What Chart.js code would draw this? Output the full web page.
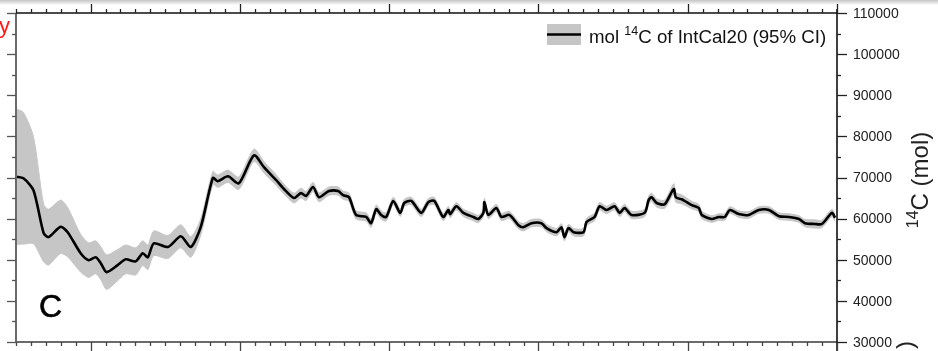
<!DOCTYPE html>
<html>
<head>
<meta charset="utf-8">
<script src="https://cdn.jsdelivr.net/npm/chart.js@4"></script>
<style>
  html, body { margin: 0; padding: 0; background: #fff; }
  body { width: 938px; height: 351px; overflow: hidden; position: relative; }
  #topbar { position: absolute; left: 0; top: 0; width: 938px; height: 5px;
    background: linear-gradient(#c4c4c4, #fff); }
  canvas { position: absolute; left: 0; top: 0; }
</style>
</head>
<body>
<div id="topbar"></div>
<canvas id="chart" width="938" height="351"></canvas>
<script>
// calendar age (yr BP)
const ages = [55000, 54500, 53830, 53150, 52820, 52010, 51540, 50670, 50130, 49660,
  49330, 48930, 48190, 47650, 46980, 46510, 46170, 45770, 44830, 43960,
  43290, 42620, 41810, 41480, 40800, 40070, 39060, 38390, 37580, 37050,
  36380, 35910, 35570, 35100, 34700, 34030, 33420, 33090, 32690, 32220,
  31540, 31210, 30870, 30540, 30200, 29730, 29260, 28990, 28520, 27850,
  27380, 26980, 26380, 26040, 25910, 25500, 25030, 24360, 24030, 23690,
  23620, 23360, 22820, 22480, 21950, 21340, 21010, 20470, 19800, 19460,
  18790, 18460, 18260, 17990, 17650, 16980, 16780, 16240, 15910, 15440,
  14900, 14560, 14230, 13760, 12890, 12620, 12420, 12080, 11540, 10940,
  10800, 10400, 10070, 9730, 9260, 9060, 8390, 7920, 7520, 7180,
  6580, 5910, 5240, 4560, 3890, 3220, 2550, 2150, 1480, 1010,
  340, 130];
// mol 14C
const mol = [70200, 69800, 66900, 56500, 55500, 58000, 56700, 51600, 49900, 50600,
  49200, 47000, 48700, 50100, 49600, 51600, 50600, 54000, 53100, 55700,
  53100, 58000, 69900, 69100, 70300, 68600, 75400, 72500, 69400, 67200,
  65000, 66200, 65500, 67700, 65200, 66700, 66700, 65700, 65200, 60900,
  60400, 58900, 62300, 60900, 60400, 64300, 61400, 63800, 64300, 61400,
  64000, 64300, 60400, 62100, 61100, 63000, 61400, 60400, 59900, 61400,
  64000, 60900, 62600, 60400, 60900, 58400, 57900, 58900, 58900, 57700,
  56700, 57900, 55500, 57700, 56700, 56700, 59200, 60400, 63000, 62100,
  63000, 61400, 62600, 60900, 61400, 64500, 65200, 63800, 63500, 67200,
  65200, 64700, 64000, 63300, 62600, 60900, 59900, 60400, 60400, 62100,
  61100, 60900, 62100, 62100, 60600, 60400, 59900, 58900, 58700, 58700,
  61400, 60200];
// half width of the 95% band
const ciHalf = [16500, 16000, 13000, 7000, 6800, 6500, 6000, 4600, 4200, 4000,
  4000, 4200, 3800, 3500, 3300, 3000, 3000, 3000, 2800, 2800,
  2500, 2000, 1600, 1500, 1500, 1500, 1500, 1400, 1300, 1200,
  1200, 1200, 1100, 1100, 1100, 1000, 1000, 1000, 1000, 1000,
  1000, 1000, 1000, 1000, 1000, 900, 900, 900, 900, 900,
  900, 900, 900, 900, 900, 900, 900, 900, 900, 900,
  900, 900, 900, 900, 900, 900, 900, 900, 900, 900,
  900, 900, 900, 900, 900, 900, 900, 900, 900, 900,
  900, 900, 900, 900, 900, 1000, 1000, 1000, 1000, 1300,
  1200, 1100, 1000, 900, 900, 900, 800, 800, 800, 800,
  800, 800, 800, 800, 800, 800, 800, 900, 1000, 900,
  900, 900];
const xMajor = [0, 10000, 20000, 30000, 40000, 50000];
const yLabels = [30000, 40000, 50000, 60000, 70000, 80000, 90000, 100000, 110000];

const linePts = ages.map((a, i) => ({ x: a, y: mol[i] }));
const upPts = ages.map((a, i) => ({ x: a, y: mol[i] + ciHalf[i] }));
const loPts = ages.map((a, i) => ({ x: a, y: mol[i] - ciHalf[i] }));

const FONT = '"Liberation Sans", Arial, Helvetica, sans-serif';

// axes frame, ticks and the texts around the plot
const decor = {
  id: 'decor',
  afterDraw(chart) {
    const ctx = chart.ctx;
    const a = chart.chartArea;
    const xs = chart.scales.x, ys = chart.scales.y;
    ctx.save();

    // left + bottom (grey), top + right (black)
    ctx.lineWidth = 2;
    ctx.strokeStyle = '#6a6a6a';
    ctx.beginPath();
    ctx.moveTo(a.left, a.top); ctx.lineTo(a.left, a.bottom);
    ctx.moveTo(a.left - 1, a.bottom); ctx.lineTo(a.right, a.bottom);
    ctx.stroke();
    ctx.strokeStyle = '#111';
    ctx.lineWidth = 1.6;
    ctx.beginPath();
    ctx.moveTo(a.left, a.top); ctx.lineTo(a.right, a.top);
    ctx.moveTo(a.right, a.top - 4); ctx.lineTo(a.right, a.bottom + 9);
    ctx.stroke();

    // x ticks, top and bottom
    ctx.lineWidth = 1.3;
    for (let v = 0; v <= 55000; v += 1000) {
      const px = Math.round(xs.getPixelForValue(v)) + 0.5;
      const big = xMajor.includes(v);
      const len = big ? 9 : 4;
      ctx.strokeStyle = '#222';
      ctx.beginPath();
      ctx.moveTo(px, a.top); ctx.lineTo(px, a.top - len);
      ctx.stroke();
      ctx.strokeStyle = '#444';
      ctx.beginPath();
      ctx.moveTo(px, a.bottom); ctx.lineTo(px, a.bottom + len);
      ctx.stroke();
    }

    // y ticks, left and right, labels on the right
    ctx.font = '14px ' + FONT;
    ctx.textBaseline = 'middle';
    ctx.textAlign = 'left';
    for (let v = 30000; v <= 110000; v += 5000) {
      const py = Math.round(ys.getPixelForValue(v)) + 0.5;
      const big = v % 10000 === 0;
      ctx.strokeStyle = '#555';
      ctx.beginPath();
      ctx.moveTo(a.left, py); ctx.lineTo(a.left - (big ? 9 : 4), py);
      ctx.stroke();
      ctx.strokeStyle = '#222';
      ctx.beginPath();
      ctx.moveTo(a.right, py); ctx.lineTo(a.right + (big ? 10 : 4), py);
      ctx.stroke();
    }
    ctx.fillStyle = '#222';
    yLabels.forEach(v => {
      ctx.fillText(String(v), a.right + 16, ys.getPixelForValue(v) + 1);
    });

    // y title, rotated
    ctx.save();
    ctx.translate(928, 180);
    ctx.rotate(-Math.PI / 2);
    ctx.textBaseline = 'alphabetic';
    ctx.font = '16px ' + FONT;
    const supW = ctx.measureText('14').width;
    ctx.font = '24px ' + FONT;
    const mainW = ctx.measureText('C (mol)').width;
    let sx = -(supW + mainW) / 2;
    ctx.font = '16px ' + FONT;
    ctx.fillText('14', sx, -10);
    ctx.font = '24px ' + FONT;
    ctx.fillText('C (mol)', sx + supW, 0);
    ctx.restore();

    // legend
    ctx.fillStyle = '#c6c6c6';
    ctx.fillRect(547, 24, 34, 21);
    ctx.strokeStyle = '#000';
    ctx.lineWidth = 2.5;
    ctx.beginPath();
    ctx.moveTo(547, 34.5); ctx.lineTo(581, 34.5);
    ctx.stroke();
    ctx.fillStyle = '#111';
    ctx.textBaseline = 'alphabetic';
    let tx = 589;
    ctx.font = '18.7px ' + FONT;
    ctx.fillText('mol ', tx, 43);
    tx += ctx.measureText('mol ').width;
    ctx.font = '12.5px ' + FONT;
    ctx.fillText('14', tx, 35);
    tx += ctx.measureText('14').width;
    ctx.font = '18.7px ' + FONT;
    ctx.fillText('C of IntCal20 (95% CI)', tx, 43);

    // panel letter
    ctx.font = '32px ' + FONT;
    ctx.fillStyle = '#000';
    ctx.strokeStyle = '#000';
    ctx.lineWidth = 0.6;
    ctx.fillText('C', 39, 317);
    ctx.strokeText('C', 39, 317);

    // cut-off red "y" at top left
    ctx.fillStyle = '#ff1a1a';
    ctx.font = '22px ' + FONT;
    ctx.fillText('y', -1, 33);

    // cut-off bracket of the next title
    ctx.save();
    ctx.translate(913, 349);
    ctx.rotate(-Math.PI / 2);
    ctx.fillStyle = '#222';
    ctx.font = '24px ' + FONT;
    ctx.fillText(')', 0, 0);
    ctx.restore();

    ctx.restore();
  }
};

new Chart(document.getElementById('chart'), {
  type: 'line',
  data: {
    datasets: [
      {
        label: 'mol 14C of IntCal20',
        data: linePts,
        borderColor: '#000',
        borderWidth: 2.6,
        pointRadius: 0,
        tension: 0.25,
        fill: false,
        order: 0
      },
      {
        label: 'upper',
        data: upPts,
        borderColor: '#c6c6c6',
        borderWidth: 1,
        backgroundColor: '#c6c6c6',
        pointRadius: 0,
        tension: 0.25,
        fill: '+1',
        order: 1
      },
      {
        label: 'lower',
        data: loPts,
        borderColor: '#c6c6c6',
        borderWidth: 1,
        pointRadius: 0,
        tension: 0.25,
        fill: false,
        order: 2
      }
    ]
  },
  options: {
    responsive: false,
    animation: false,
    layout: { padding: { left: 16, right: 101, top: 13, bottom: 9 } },
    plugins: { legend: { display: false }, tooltip: { enabled: false } },
    scales: {
      x: { type: 'linear', min: 0, max: 55000, reverse: true, display: false },
      y: { type: 'linear', min: 30000, max: 110000, display: false }
    }
  },
  plugins: [decor]
});
</script>
</body>
</html>
